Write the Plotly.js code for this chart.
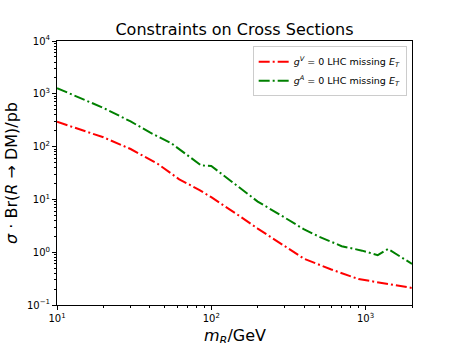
<!DOCTYPE html>
<html>
<head>
<meta charset="utf-8">
<script src="https://cdn.plot.ly/plotly-3.0.1.min.js"></script>
<style>html,body{margin:0;padding:0;background:#fff}</style>
</head>
<body>
<div id="chart" style="width:458px;height:343px"></div>
<script>
// g^V = 0 curve (red)
var massV = [10, 15, 20, 30, 45, 62, 84, 100, 135, 150, 200, 300, 400, 600, 900, 1400, 2000];
var sigmaV = [295, 200, 150, 90, 47, 24, 15, 11, 6.2, 5, 2.8, 1.3, 0.75, 0.47, 0.31, 0.25, 0.21];

// g^A = 0 curve (green)
var massA = [10, 15, 20, 30, 40, 55, 70, 86, 100, 140, 200, 300, 400, 500, 700, 950, 1200, 1400, 2000];
var sigmaA = [1280, 760, 540, 300, 185, 116, 69, 44, 43, 20, 9.1, 4.5, 2.7, 1.97, 1.3, 1.07, 0.88, 1.15, 0.6];

var yTickVals = [0.1, 1, 10, 100, 1000, 10000];
var yTickText = ['10<sup>\u22121</sup>', '10<sup>0</sup>', '10<sup>1</sup>', '10<sup>2</sup>', '10<sup>3</sup>', '10<sup>4</sup>'];
var xTickVals = [10, 100, 1000];
var xTickText = ['10<sup>1</sup>', '10<sup>2</sup>', '10<sup>3</sup>'];

// minor ticks 2..9 in each decade
function minors(lo, hi) {
  var out = [];
  for (var d = lo; d < hi; d++)
    for (var k = 2; k < 10; k++) out.push(k * Math.pow(10, d));
  return out;
}

var dashdot = '11px,3px,2px,3px';

var trace1 = {
  x: massV, y: sigmaV,
  name: '<i>g</i><sup><i>V</i></sup> = 0 LHC missing <i>E</i><sub><i>T</i></sub>',
  mode: 'lines',
  line: {color: '#ff0000', width: 2, dash: dashdot},
  type: 'scatter'
};
var trace2 = {
  x: massA, y: sigmaA,
  name: '<i>g</i><sup><i>A</i></sup> = 0 LHC missing <i>E</i><sub><i>T</i></sub>',
  mode: 'lines',
  line: {color: '#008000', width: 2, dash: dashdot},
  type: 'scatter'
};

var font = 'DejaVu Sans, sans-serif';

var layout = {
  width: 458, height: 343,
  margin: {l: 57, r: 46, t: 41, b: 38},
  paper_bgcolor: '#fff', plot_bgcolor: '#fff',
  font: {family: font, color: '#000', size: 10},
  title: {text: 'Constraints on Cross Sections', font: {size: 16}, x: 0.5, xref: 'paper', y: 0.915, yanchor: 'middle'},
  showlegend: true,
  legend: {x: 0.985, y: 0.98, xanchor: 'right', yanchor: 'top', bgcolor: 'rgba(255,255,255,0.8)',
           bordercolor: '#cccccc', borderwidth: 1, font: {size: 9.5}, tracegroupgap: 0},
  xaxis: {
    type: 'log', range: [1, Math.log10(2000)],
    tickmode: 'array', tickvals: xTickVals, ticktext: xTickText,
    ticks: 'outside', ticklen: 4, tickcolor: '#000',
    showgrid: false, zeroline: false,
    showline: true, linecolor: '#000', linewidth: 1, mirror: true,
    minor: {tickmode: 'array', tickvals: minors(1, 4), ticks: 'outside', ticklen: 2, tickcolor: '#000', showgrid: false}
  },
  yaxis: {
    type: 'log', range: [-1, 4],
    tickmode: 'array', tickvals: yTickVals, ticktext: yTickText,
    ticks: 'outside', ticklen: 4, tickcolor: '#000',
    showgrid: false, zeroline: false,
    showline: true, linecolor: '#000', linewidth: 1, mirror: true,
    minor: {tickmode: 'array', tickvals: minors(-1, 4), ticks: 'outside', ticklen: 2, tickcolor: '#000', showgrid: false},
    title: {text: '<i>\u03c3</i> \u00b7 Br(<i>R</i> \u2192 DM)/pb', font: {size: 16}, standoff: 5}
  },
  // x title as annotation so it can sit lower than the margin allows
  annotations: [{
    text: '<i>m</i><sub><i>R</i></sub>/GeV', font: {size: 16},
    xref: 'paper', yref: 'paper', x: 0.5, y: -0.12,
    xanchor: 'center', yanchor: 'middle', showarrow: false
  }]
};

Plotly.newPlot('chart', [trace1, trace2], layout, {displayModeBar: false, staticPlot: true});
</script>
</body>
</html>
